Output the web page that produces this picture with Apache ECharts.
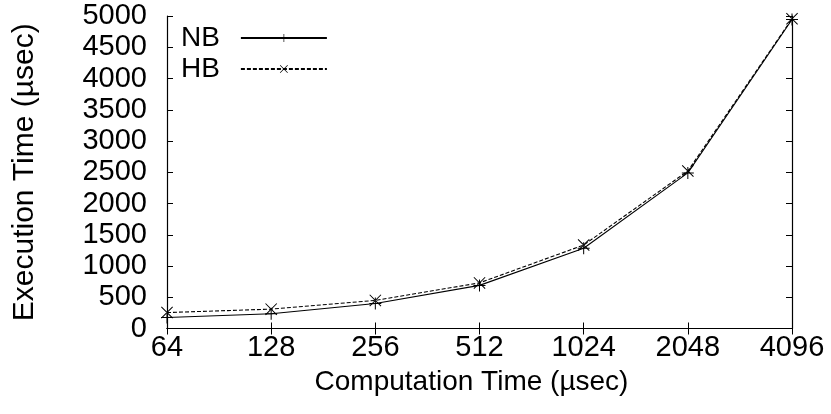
<!DOCTYPE html>
<html>
<head>
<meta charset="utf-8">
<script src="https://cdn.jsdelivr.net/npm/echarts@6/dist/echarts.min.js"></script>
<style>
  html, body { margin: 0; padding: 0; background: #fff; }
  #chart { width: 831px; height: 414px; }
</style>
</head>
<body>
<div id="chart"></div>
<script>
// Computation time (µsec) on a doubling scale
const categories = ['64', '128', '256', '512', '1024', '2048', '4096'];
// Execution time (µsec) for each scheme
const nbValues = [175, 235, 400, 690, 1285, 2490, 4945];
const hbValues = [255, 310, 450, 730, 1335, 2520, 4955];
const yTicks = { min: 0, max: 5000, interval: 500 };

const FONT = 'Liberation Sans, Arial, Helvetica, sans-serif';
const FS = 28;
const TICK_FS = 29;

// Thin filled glyphs used as point markers
const plusPath = 'path://M-0.5,-6 L0.5,-6 L0.5,6 L-0.5,6 Z M-6,-0.5 L6,-0.5 L6,0.5 L-6,0.5 Z';
const crossPath = 'path://M-6,-5.3 L-5.3,-6 L6,5.3 L5.3,6 Z M6,-5.3 L5.3,-6 L-6,5.3 L-5.3,6 Z';

const chart = echarts.init(document.getElementById('chart'), null, { renderer: 'canvas' });

const tickStyle = { inside: true, length: 6, lineStyle: { color: '#000', width: 1 } };
const axisLine = { show: true, lineStyle: { color: '#000', width: 1.2 } };

const legendBase = {
  orient: 'vertical',
  left: 181,
  align: 'right',
  itemWidth: 86,
  itemHeight: 10,
  itemGap: 4,
  padding: 0,
  textStyle: { fontFamily: FONT, fontSize: FS, color: '#000', padding: [0, 16, 0, 0] },
  inactiveColor: '#000'
};

chart.setOption({
  animation: false,
  backgroundColor: '#fff',
  grid: { left: 167, right: 39, top: 16, bottom: 85.5, containLabel: false },
  legend: [
    Object.assign({}, legendBase, { top: 24, data: ['NB'] }),
    Object.assign({}, legendBase, { top: 55, data: ['HB'] })
  ],
  xAxis: [
    {
      type: 'category',
      data: categories,
      boundaryGap: false,
      position: 'bottom',
      axisLine: axisLine,
      axisTick: tickStyle,
      splitLine: { show: false },
      axisLabel: { color: '#000', fontFamily: FONT, fontSize: TICK_FS, margin: 5 },
      name: 'Computation Time (µsec)',
      nameLocation: 'middle',
      nameGap: 40,
      nameTextStyle: { color: '#000', fontFamily: FONT, fontSize: FS, padding: [0, 16, 0, 0] }
    },
    {
      type: 'category',
      data: categories,
      boundaryGap: false,
      position: 'top',
      axisLine: axisLine,
      axisTick: tickStyle,
      axisLabel: { show: false },
      splitLine: { show: false }
    }
  ],
  yAxis: [
    {
      type: 'value',
      min: yTicks.min,
      max: yTicks.max,
      interval: yTicks.interval,
      position: 'left',
      axisLine: axisLine,
      axisTick: Object.assign({ show: true }, tickStyle),
      splitLine: { show: false },
      axisLabel: {
        color: '#000', fontFamily: FONT, fontSize: TICK_FS, margin: 20,
        formatter: function (v) { return String(v); }
      },
      name: 'Execution Time (µsec)',
      nameLocation: 'middle',
      nameRotate: 90,
      nameGap: 127,
      nameTextStyle: { color: '#000', fontFamily: FONT, fontSize: 30 }
    },
    {
      type: 'value',
      min: yTicks.min,
      max: yTicks.max,
      interval: yTicks.interval,
      position: 'right',
      axisLine: axisLine,
      axisTick: Object.assign({ show: true }, tickStyle),
      axisLabel: { show: false },
      splitLine: { show: false }
    }
  ],
  series: [
    {
      name: 'NB',
      type: 'line',
      data: nbValues,
      symbol: plusPath,
      symbolSize: 12,
      showAllSymbol: true,
      lineStyle: { color: '#000', width: 1.1, type: 'solid' },
      itemStyle: { color: '#000' },
      z: 3
    },
    {
      name: 'HB',
      type: 'line',
      data: hbValues,
      symbol: crossPath,
      symbolSize: 12,
      showAllSymbol: true,
      lineStyle: { color: '#000', width: 1.1, type: [4, 2] },
      itemStyle: { color: '#000' },
      z: 2
    }
  ]
});
</script>
</body>
</html>
